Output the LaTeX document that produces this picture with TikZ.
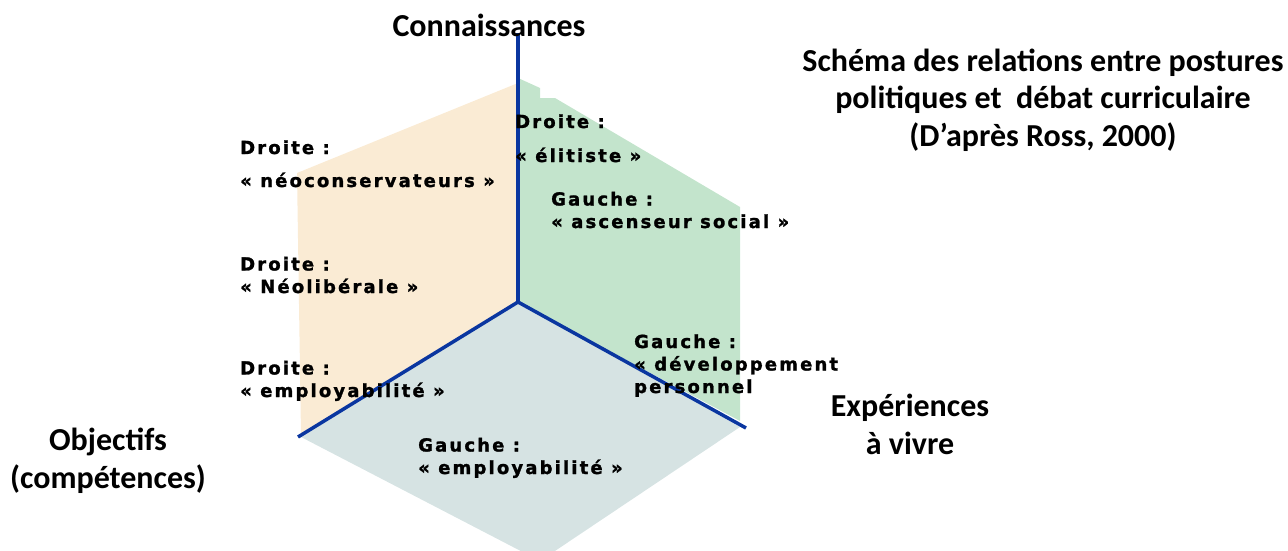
\documentclass[tikz,border=0pt]{standalone}
\usepackage{fontspec}
\setmainfont{Carlito}
\newfontfamily\verd[LetterSpace=12,BoldFeatures={FakeBold=1.5}]{DejaVu Sans}
\definecolor{axisblue}{HTML}{0A36A0}
\definecolor{droitefill}{HTML}{FAEBD4}
\definecolor{gauchefill}{HTML}{C3E4CC}
\definecolor{bottomfill}{HTML}{D6E3E3}
\begin{document}
\begin{tikzpicture}[x=1pt,y=-1pt]
  \tikzset{posbox/.style={anchor=base west,align=left,inner sep=0pt,font=\verd\bfseries\fontsize{18}{22.5}\selectfont},
           axe/.style={align=center,inner sep=0pt,font=\bfseries\fontsize{32}{37.5}\selectfont},
           axis/.style={draw=axisblue,line width=3.5pt}}
  \useasboundingbox (0,0) rectangle (1288,551);
  \clip (0,0) rectangle (1288,551);
  \coordinate (O) at (518,302);
  \coordinate (KN) at (518,33);
  \coordinate (OB) at (298,437);
  \coordinate (EX) at (746,428);
  %regions
  \fill[droitefill] (518,83) -- (297,173) -- (301,435) -- (O) -- cycle;
  \fill[gauchefill] (518,78) -- (540,88) -- (540,98) -- (555,98) -- (740,207) -- (740,421) -- (O) -- cycle;
  \fill[bottomfill] (O) -- (301,437) -- (540,561) -- (740,427) -- cycle;
  %axes
  \path[axis] (O) -- (KN);
  \path[axis] (O) -- (OB);
  \path[axis] (O) -- (EX);
  \node[axe,anchor=base] at (489,37) (CONN) {Connaissances};
  \node[axe,anchor=base] at (108,488) (OBJ) {Objectifs\\(compétences)};
  \node[axe,anchor=base] at (910,454) (EXP) {Expériences\\à vivre};
  \node[axe,anchor=base] at (1043,146) (TITLE) {Schéma des relations entre postures\\politiques et~ débat curriculaire\\(D’après Ross, 2000)};
  %positions
  \node[posbox,font=\verd\bfseries\fontsize{18}{33}\selectfont] at (240,187) (NEOCONS) {Droite :\\«~néoconservateurs~»};
  \node[posbox] at (240,293) (NEOLIB) {Droite :\\«~Néolibérale~»};
  \node[posbox] at (240,397) (EMPLD) {Droite :\\«~employabilité~»};
  \node[posbox,font=\verd\bfseries\fontsize{18}{34}\selectfont] at (515,162) (ELIT) {Droite :\\«~élitiste~»};
  \node[posbox] at (551,228) (ASC) {Gauche :\\«~ascenseur social~»};
  \node[posbox] at (634,393) (DEV) {Gauche :\\«~développement\\personnel};
  \node[posbox] at (418,474) (EMPLG) {Gauche :\\«~employabilité~»};
\end{tikzpicture}
\end{document}
